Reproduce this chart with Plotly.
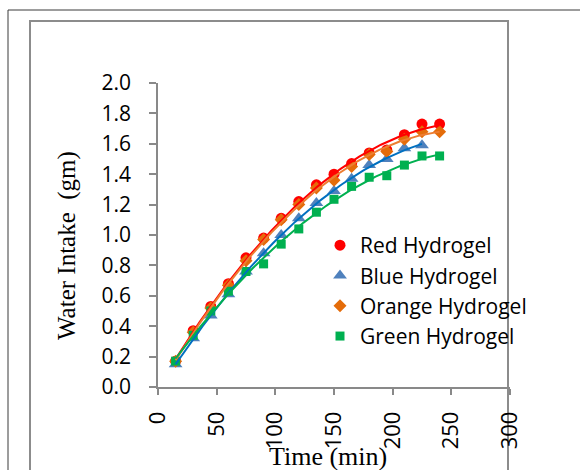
import numpy as np
import plotly.graph_objects as go

# ---- data ----
time_min = [15, 30, 45, 60, 75, 90, 105, 120, 135, 150, 165, 180, 195, 210, 225, 240]
time_blue = [15, 30, 45, 60, 75, 90, 105, 120, 135, 150, 165, 180, 195, 210, 225]
red = [0.17, 0.37, 0.53, 0.68, 0.85, 0.98, 1.11, 1.22, 1.33, 1.40, 1.47, 1.54, 1.56, 1.66, 1.73, 1.73]
blue = [0.15, 0.32, 0.47, 0.61, 0.76, 0.88, 1.00, 1.11, 1.21, 1.29, 1.37, 1.46, 1.50, 1.57, 1.59]
orange = [0.17, 0.36, 0.52, 0.67, 0.83, 0.97, 1.10, 1.20, 1.31, 1.36, 1.45, 1.53, 1.55, 1.63, 1.68, 1.68]
green = [0.17, 0.34, 0.50, 0.63, 0.76, 0.81, 0.94, 1.04, 1.15, 1.235, 1.32, 1.38, 1.39, 1.46, 1.52, 1.52]
names = ["Red Hydrogel", "Blue Hydrogel", "Orange Hydrogel", "Green Hydrogel"]
x_ticks = [0, 50, 100, 150, 200, 250, 300]
y_ticks = [0.0, 0.2, 0.4, 0.6, 0.8, 1.0, 1.2, 1.4, 1.6, 1.8, 2.0]

series = [
    (names[0], time_min, red, "circle", 11, "#FF0000", "#FF0000"),
    (names[1], time_blue, blue, "triangle-up", 12, "#4F81BD", "#0070C0"),
    (names[2], time_min, orange, "diamond", 10, "#E46C0A", "#ED7D31"),
    (names[3], time_min, green, "square", 9, "#00B050", "#00B050"),
]

fig = go.Figure()
for name, xs, ys, sym, size, mcol, lcol in series:
    fig.add_trace(go.Scatter(x=xs, y=ys, mode="markers", name=name,
                             marker=dict(symbol=sym, size=size, color=mcol, line=dict(width=0))))
# polynomial (order 2) trendlines, as in the original spreadsheet chart
for name, xs, ys, sym, size, mcol, lcol in series:
    c = np.polyfit(xs, ys, 2)
    xx = np.linspace(min(xs), max(xs), 100)
    fig.add_trace(go.Scatter(x=xx, y=np.polyval(c, xx), mode="lines", showlegend=False,
                             line=dict(color=lcol, width=2), hoverinfo="skip"))

L, R, T, B = 158, 70, 83, 83
W, H = 580, 470
pw, ph = W - L - R, H - T - B
def px(x):
    return (x - L) / pw
def py(y):
    return (H - B - y) / ph

axis_col = "#898989"
fig.update_layout(
    width=W, height=H, margin=dict(l=L, r=R, t=T, b=B),
    paper_bgcolor="white", plot_bgcolor="white",
    showlegend=True,
    legend=dict(x=px(320), y=py(225), xanchor="left", yanchor="top",
                bgcolor="rgba(0,0,0,0)", font=dict(family="Open Sans", size=21, color="black"),
                tracegroupgap=0),
    xaxis=dict(range=[0, 300], tickvals=x_ticks, ticktext=[str(v) for v in x_ticks],
               tickangle=-90, showgrid=False, zeroline=False, showline=True,
               linecolor=axis_col, linewidth=1.5, ticks="outside", ticklen=6,
               tickcolor=axis_col, tickwidth=1.5, ticklabelstandoff=8,
               tickfont=dict(family="Open Sans", size=22, color="black")),
    yaxis=dict(range=[0, 2.0], tickvals=y_ticks, ticktext=["%.1f" % v for v in y_ticks],
               showgrid=False, zeroline=False, showline=True,
               linecolor=axis_col, linewidth=1.5, ticks="outside", ticklen=7,
               tickcolor=axis_col, tickwidth=1.5, ticklabelstandoff=14,
               tickfont=dict(family="Open Sans", size=21, color="black")),
    annotations=[
        dict(text="Time (min)", xref="paper", yref="paper", x=px(328), y=py(457),
             xanchor="center", yanchor="middle", showarrow=False,
             font=dict(family="Liberation Serif", size=26, color="black")),
        dict(text="Water Intake \u00a0(gm)", xref="paper", yref="paper", x=px(67), y=py(246),
             xanchor="center", yanchor="middle", showarrow=False, textangle=-90,
             font=dict(family="Liberation Serif", size=25, color="black")),
    ],
    shapes=[
        dict(type="rect", xref="paper", yref="paper", x0=px(8), x1=px(600), y0=py(500), y1=py(10),
             line=dict(color="#3a3a3a", width=1), fillcolor="rgba(0,0,0,0)", layer="below"),
        dict(type="rect", xref="paper", yref="paper", x0=px(30), x1=px(508), y0=py(500), y1=py(21),
             line=dict(color="#8c8c8c", width=2), fillcolor="rgba(0,0,0,0)", layer="below"),
    ],
)

fig.write_html("out.html", config={"displayModeBar": False},
               post_script="document.body.style.margin='0';document.body.style.overflow='hidden';")
